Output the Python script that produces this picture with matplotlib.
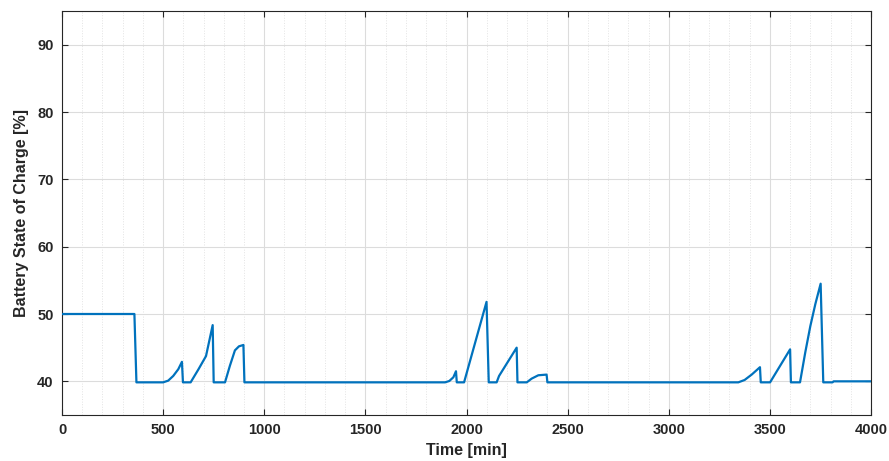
import matplotlib
matplotlib.use("Agg")
import matplotlib.pyplot as plt
from matplotlib.ticker import MultipleLocator

plt.rcParams['font.family'] = ['Liberation Sans', 'DejaVu Sans']

time_min = [0, 358, 368, 500, 525, 550, 575, 593, 598, 636, 675, 712, 745, 750,
            806, 830, 855, 875, 897, 902, 1894, 1915, 1935, 1948, 1952, 1988,
            2099, 2110, 2149, 2161, 2248, 2252, 2298, 2322, 2355, 2396,
            2400, 3344, 3375, 3410, 3451, 3455, 3501, 3600, 3604, 3649, 3675,
            3700, 3725, 3751, 3764, 3810, 3815, 4000]
soc_pct = [50.0, 50.0, 39.85, 39.85, 40.1, 40.8, 41.8, 42.9, 39.85, 39.85, 41.8, 43.75,
           48.35, 39.85, 39.85, 42.3, 44.6, 45.2, 45.4, 39.85, 39.85, 40.05, 40.6,
           41.5, 39.85, 39.85, 51.8, 39.85, 39.85, 40.8, 45.0, 39.85, 39.85,
           40.4, 40.9, 41.0, 39.85, 39.85, 40.2, 41.0, 42.1, 39.85, 39.85, 44.75,
           39.85, 39.85, 44.3, 48.2, 51.5, 54.5, 39.85, 39.85, 40.0, 40.0]

x_ticks = [0, 500, 1000, 1500, 2000, 2500, 3000, 3500, 4000]
y_ticks = [40, 50, 60, 70, 80, 90]

fig = plt.figure(figsize=(8.89, 4.61), dpi=100)
ax = fig.add_axes([62/889, 46/461, 809/889, 404/461])

ax.plot(time_min, soc_pct, color='#0072BD', lw=1.6, zorder=3)

ax.set_xlim(0, 4000)
ax.set_ylim(35, 95)
ax.set_xticks(x_ticks)
ax.set_yticks(y_ticks)
ax.xaxis.set_minor_locator(MultipleLocator(100))

ax.grid(True, which='major', color='#dcdcdc', lw=0.8, ls='-')
ax.grid(True, which='minor', axis='x', color='#e3e3e3', lw=0.7, ls=':')
ax.set_axisbelow(True)

ax.tick_params(which='major', direction='in', length=4, width=0.8,
               top=True, right=True, colors='#262626', labelsize=10.5, pad=6)
ax.tick_params(which='minor', length=0)
for lab in ax.get_xticklabels() + ax.get_yticklabels():
    lab.set_fontweight('bold')
for s in ax.spines.values():
    s.set_color('#262626')
    s.set_linewidth(0.8)

ax.set_xlabel('Time [min]', fontsize=11.5, fontweight='bold', color='#262626', labelpad=4)
ax.set_ylabel('Battery State of Charge [%]', fontsize=11.5, fontweight='bold', color='#262626', labelpad=6)

fig.savefig('out.png', dpi=100)
